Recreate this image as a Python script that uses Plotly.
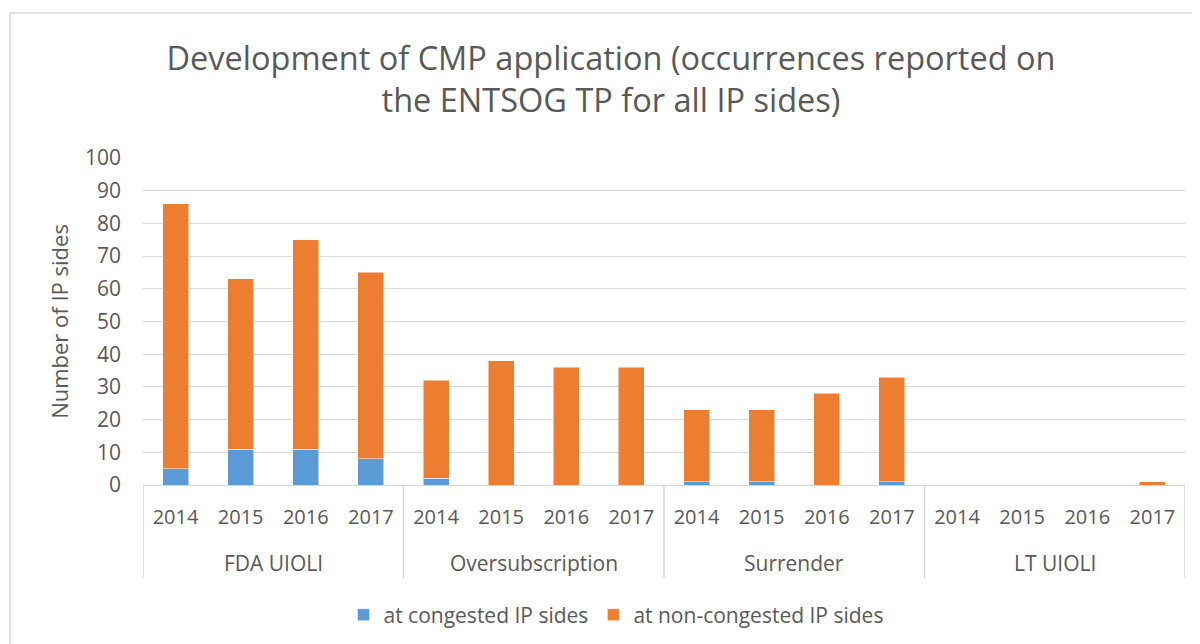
import plotly.graph_objects as go

# Data
mechanisms = ["FDA UIOLI", "Oversubscription", "Surrender", "LT UIOLI"]
years = ["2014", "2015", "2016", "2017"]
congested = [5, 11, 11, 8, 2, 0, 0, 0, 1, 1, 0, 1, 0, 0, 0, 0]
non_congested = [81, 52, 64, 57, 30, 38, 36, 36, 22, 22, 28, 32, 0, 0, 0, 1]

# one unique category per bar, labelled by its year
x_keys = [f"{m} {y}" for m in mechanisms for y in years]
x_text = [y for _ in mechanisms for y in years]

# page has an 8px body margin, so the figure is sized/offset accordingly
OFF = 8
W, H = 1200 - OFF, 644 - OFF
L, T = 143 - OFF, 158 - OFF
R = W - (1185 - OFF)
B = H - (485 - OFF)
pw = W - L - R
ph = H - T - B

font_family = "Open Sans, Noto Sans, sans-serif"
grey = "#595959"
line_grey = "#d9d9d9"

fig = go.Figure()
fig.add_trace(go.Bar(
    x=x_keys, y=congested, name="at congested IP sides",
    marker=dict(color="#5B9BD5", line=dict(color="#ffffff", width=0.5)),
))
fig.add_trace(go.Bar(
    x=x_keys, y=non_congested, name="at non-congested IP sides",
    marker=dict(color="#ED7D31", line=dict(color="#ffffff", width=0.5)),
))

fig.update_layout(
    barmode="stack",
    bargap=0.6,
    width=W, height=H,
    autosize=False,
    margin=dict(l=L, r=R, t=T, b=B, autoexpand=False),
    paper_bgcolor="white",
    plot_bgcolor="white",
    font=dict(family=font_family, color=grey, size=20),
    title=dict(
        text="Development of CMP application (occurrences reported on<br>the ENTSOG TP for all IP sides)",
        x=(611 - OFF) / W, xref="container", xanchor="center",
        y=1 - 62 / H, yanchor="top",
        font=dict(size=32.5, color=grey),
    ),
    legend=dict(
        orientation="h", x=(616 - 143) / pw, xanchor="center",
        y=-(615 - 485) / ph, yanchor="middle",
        font=dict(size=21, color=grey),
        traceorder="normal", itemwidth=30,
    ),
    showlegend=True,
)

fig.update_yaxes(
    range=[0, 100], dtick=10, showgrid=True, gridcolor=line_grey, gridwidth=1,
    zeroline=True, zerolinecolor=line_grey, zerolinewidth=1,
    tickfont=dict(size=21, color=grey), ticks="", ticklabelstandoff=21,
    automargin=False,
    title=dict(text="Number of IP sides", font=dict(size=22, color=grey), standoff=10),
)
fig.update_xaxes(
    type="category", automargin=False, tickangle=0,
    tickvals=x_keys, ticktext=x_text,
    range=[-0.5, len(x_keys) - 0.5],
    showline=True, linecolor=line_grey, linewidth=1,
    tickfont=dict(size=20, color=grey), ticks="", ticklabelstandoff=14,
)

n = len(years)
# group labels under the year labels
for i, m in enumerate(mechanisms):
    fig.add_annotation(
        x=i * n + (n - 1) / 2, xref="x",
        y=-(563 - 485) / ph, yref="paper", yanchor="middle",
        text=m, showarrow=False, font=dict(size=21, color=grey),
    )
# group dividers
for i in range(len(mechanisms) + 1):
    fig.add_shape(
        type="line", xref="x", yref="paper",
        x0=i * n - 0.5, x1=i * n - 0.5, y0=0, y1=-(578 - 485) / ph,
        line=dict(color=line_grey, width=1.5),
    )

# light chart-area border
fig.add_shape(
    type="rect", xref="paper", yref="paper",
    x0=(10 - 143) / pw, x1=(1210 - 143) / pw,
    y0=-(660 - 485) / ph, y1=(485 - 13) / ph,
    line=dict(color=line_grey, width=1.5), fillcolor="rgba(0,0,0,0)", layer="below",
)

fig.write_html("out.html")
